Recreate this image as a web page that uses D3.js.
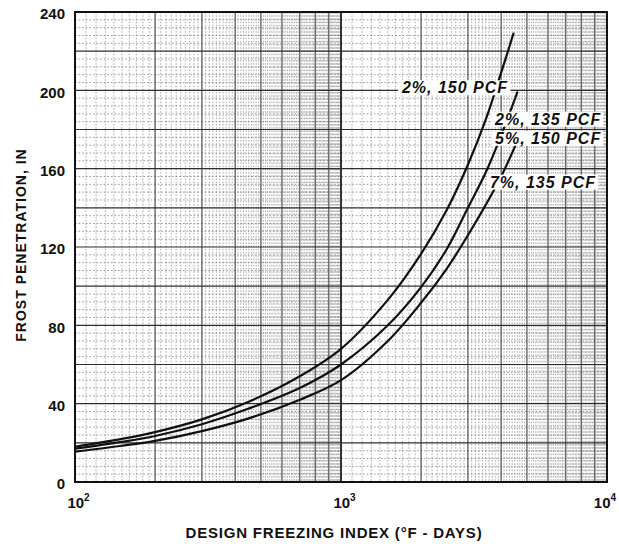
<!DOCTYPE html>
<html>
<head>
<meta charset="utf-8">
<script src="https://cdn.jsdelivr.net/npm/d3@7"></script>
<style>
  body { margin: 0; background: #fff; }
  svg { display: block; font-family: "Liberation Sans", Arial, Helvetica, sans-serif; }
</style>
</head>
<body>
<svg id="chart" width="619" height="544"></svg>
<script>
// Design freezing index (°F-days) and frost penetration (in) along each curve
const indexHigh = [100, 150, 200, 300, 450, 700, 1000, 1500, 2000, 2500, 3000, 3500, 4000, 4450];
const depthHigh = [18, 22, 25.5, 32, 41, 54, 68, 93, 116.5, 139, 162, 185, 209, 229];

const indexMid = [100, 150, 200, 300, 450, 700, 1000, 1500, 2000, 2500, 3000, 3500, 4000, 4600];
const depthMid = [17, 20.5, 23.5, 29.5, 37.5, 48, 60, 80, 99.5, 119, 140, 158, 177, 199];

const indexLow = [100, 150, 200, 300, 450, 700, 1000, 1500, 2000, 2500, 3000, 3500, 4000, 4600];
const depthLow = [15.5, 18.5, 21, 26, 32.5, 42, 52, 72, 91.5, 109, 126, 141.5, 156, 174];

// Curve captions (moisture content, dry unit weight)
const captionText = ["2%, 150 PCF", "2%, 135 PCF", "5%, 150 PCF", "7%, 135 PCF"];
// caption anchors in chart units: left edge (freezing index) and baseline (depth)
const captionIndex = [1695, 3793, 3793, 3631];
const captionDepth = [198.5, 182.5, 172.7, 150.3];

const depthTicks = [0, 40, 80, 120, 160, 200, 240];
const indexTicks = [100, 1000, 10000];
const indexTickExp = ["2", "3", "4"];

const xTitle = "DESIGN FREEZING INDEX (°F - DAYS)";
const yTitle = "FROST PENETRATION, IN";

const svg = d3.select("#chart");
const W = 619;
const plotLeft = 75, plotRight = 607, plotTop = 12, plotBottom = 482;

const x = d3.scaleLog().domain([100, 10000]).range([plotLeft, plotRight]);
const y = d3.scaleLinear().domain([0, 240]).range([plotBottom, plotTop]);

// ---- semi-log graph paper ----
const grid = svg.append("g");
const decades = [100, 1000];
const minorX = [], majorX = [];
decades.forEach(d => {
  d3.range(11, 100).forEach(k => { if (k % 10) minorX.push(d * k / 10); });
  d3.range(2, 10).forEach(k => majorX.push(d * k));
});
const minorY = d3.range(4, 240, 4).filter(v => v % 20);
const majorY = d3.range(20, 240, 20);

grid.selectAll(".vminor").data(minorX).join("line")
  .attr("x1", d => x(d)).attr("x2", d => x(d))
  .attr("y1", plotTop).attr("y2", plotBottom)
  .attr("stroke", "#6a6a6a").attr("stroke-width", 0.8)
  .attr("stroke-dasharray", "1.6 1.6").attr("opacity", 0.7);

grid.selectAll(".hminor").data(minorY).join("line")
  .attr("x1", plotLeft).attr("x2", plotRight)
  .attr("y1", d => y(d)).attr("y2", d => y(d))
  .attr("stroke", "#6a6a6a").attr("stroke-width", 0.9)
  .attr("stroke-dasharray", "1.6 2").attr("opacity", 0.75);

grid.selectAll(".vmajor").data(majorX).join("line")
  .attr("x1", d => x(d)).attr("x2", d => x(d))
  .attr("y1", plotTop).attr("y2", plotBottom)
  .attr("stroke", "#3c3c3c").attr("stroke-width", 1.1);

grid.append("line")
  .attr("x1", x(1000)).attr("x2", x(1000)).attr("y1", plotTop).attr("y2", plotBottom)
  .attr("stroke", "#1e1e1e").attr("stroke-width", 1.8);

grid.selectAll(".hmajor").data(majorY).join("line")
  .attr("x1", plotLeft).attr("x2", plotRight)
  .attr("y1", d => y(d)).attr("y2", d => y(d))
  .attr("stroke", "#2e2e2e").attr("stroke-width", 1.2);

// ---- curves ----
const line = d3.line()
  .x(d => x(d[0])).y(d => y(d[1]))
  .curve(d3.curveCatmullRom.alpha(0.5));

const curves = [
  d3.zip(indexHigh, depthHigh),
  d3.zip(indexMid, depthMid),
  d3.zip(indexLow, depthLow)
];
svg.append("g").selectAll("path").data(curves).join("path")
  .attr("d", line)
  .attr("fill", "none").attr("stroke", "#111").attr("stroke-width", 2.2)
  .attr("stroke-linecap", "round");

// ---- captions on white panels ----
const caps = svg.append("g").selectAll("g").data(captionText).join("g");
caps.append("text")
  .attr("x", (d, i) => x(captionIndex[i]))
  .attr("y", (d, i) => y(captionDepth[i]))
  .attr("font-size", 16).attr("font-weight", "bold").attr("font-style", "italic")
  .attr("letter-spacing", 1).attr("fill", "#111")
  .text(d => d);
caps.each(function () {
  const gEl = d3.select(this);
  const b = gEl.select("text").node().getBBox();
  gEl.insert("rect", "text")
    .attr("x", b.x - 3).attr("y", b.y + 1)
    .attr("width", b.width + 5).attr("height", b.height - 2)
    .attr("fill", "#fff");
});

// ---- frame ----
svg.append("rect")
  .attr("x", plotLeft).attr("y", plotTop)
  .attr("width", plotRight - plotLeft).attr("height", plotBottom - plotTop)
  .attr("fill", "none").attr("stroke", "#111").attr("stroke-width", 2);

// ---- axes ----
const yAxis = svg.append("g")
  .attr("transform", `translate(${plotLeft},0)`)
  .call(d3.axisLeft(y).tickValues(depthTicks).tickSize(0).tickPadding(10));
yAxis.select(".domain").remove();
yAxis.selectAll("text")
  .attr("font-size", 15).attr("font-weight", "bold").attr("fill", "#111")
  .attr("font-family", "\"Liberation Sans\", Arial, sans-serif")
  .attr("dy", "0.45em");

const xAxis = svg.append("g")
  .attr("transform", `translate(0,${plotBottom})`)
  .call(d3.axisBottom(x).tickValues(indexTicks).tickSize(0).tickFormat(() => ""));
xAxis.select(".domain").remove();
xAxis.selectAll("text").each(function (d, i) {
  const t = d3.select(this)
    .attr("text-anchor", "middle")
    .attr("x", 3).attr("y", 26).attr("dy", 0)
    .attr("font-size", 15).attr("font-weight", "bold").attr("fill", "#111")
    .attr("font-family", "\"Liberation Sans\", Arial, sans-serif");
  t.append("tspan").text("10");
  t.append("tspan").attr("font-size", 10).attr("dy", -7).text(indexTickExp[i]);
  // keep the last label inside the page
  const b = this.getBBox();
  const rightEdge = x(d) + b.x + b.width;
  if (rightEdge > W - 3) t.attr("x", 3 - (rightEdge - (W - 3)));
});

svg.append("text")
  .attr("x", 334).attr("y", 538)
  .attr("text-anchor", "middle")
  .attr("font-size", 15).attr("font-weight", "bold").attr("letter-spacing", 0.8)
  .attr("fill", "#111")
  .text(xTitle);

svg.append("text")
  .attr("transform", "translate(26,245) rotate(-90)")
  .attr("text-anchor", "middle")
  .attr("font-size", 14).attr("font-weight", "bold").attr("letter-spacing", 1)
  .attr("fill", "#111")
  .text(yTitle);
</script>
</body>
</html>
